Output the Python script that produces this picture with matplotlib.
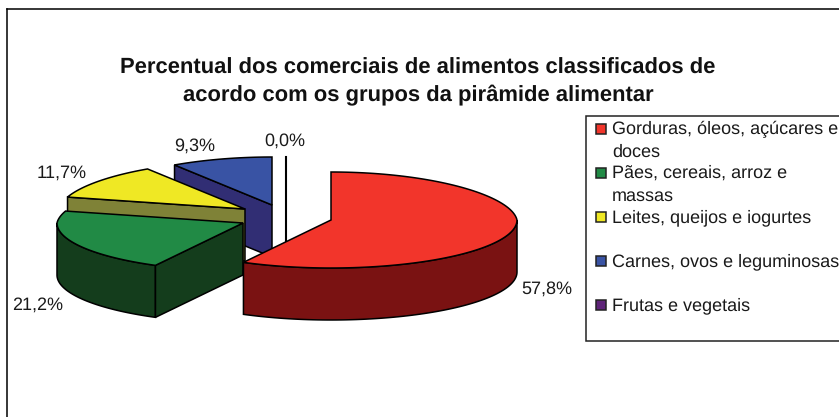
import numpy as np
import matplotlib
matplotlib.use('Agg')
import matplotlib.pyplot as plt
from matplotlib.patches import Polygon, Rectangle

plt.rcParams['font.family'] = ['Liberation Sans', 'DejaVu Sans']
plt.rcParams['text.hinting'] = 'none'
plt.rcParams['text.hinting_factor'] = 1

#data
title = 'Percentual dos comerciais de alimentos classificados de\nacordo com os grupos da pirâmide alimentar'
legend_labels = ['Gorduras, óleos, açúcares e\ndoces', 'Pães, cereais, arroz e\nmassas',
                 'Leites, queijos e iogurtes', 'Carnes, ovos e leguminosas', 'Frutas e vegetais']
percent = [57.8, 21.2, 11.7, 9.3, 0.0]

#colours
top_colors = ['#F2352B', '#218A45', '#EFE824', '#3953A4', '#5E2378']
wall_colors = ['#7A1212', '#143D1C', '#7F8237', '#312E74', '#3A1548']

#layout, in pixels of the picture
center = (260, 215)
explode = [(71, 5), (-17, 8), (-15, -6), (12, -10), (26, -10)]
rx, ry, depth = 186, 48, 52
label_pos = [(547, 289), (38, 305), (62, 173), (195, 146), (285, 141)]
legend_y = [129, 173, 217, 261, 305]

fig = plt.figure(figsize=(8.39, 4.17), dpi=100)
ax = fig.add_axes([0, 0, 1, 1])
ax.set_xlim(0, 839)
ax.set_ylim(417, 0)
ax.axis('off')


def rim(ang, apex):
    # point on the edge of a slice, the back of the pie is a bit narrower
    a = np.radians(ang)
    s = np.sin(a)
    w = rx * (1 - 0.06 * np.maximum(s, 0))
    return np.column_stack([apex[0] + w * np.cos(a), apex[1] - ry * s])


# slices start at 12 o'clock and go clockwise
edges = 90 - np.cumsum([0] + percent) * 3.6
apexes = [(center[0] + e[0], center[1] + e[1]) for e in explode]


def draw_slice(i, z, cut_face):
    apex = apexes[i]
    start, stop = edges[i], edges[i + 1]
    down = np.array([0, depth])
    # outer wall, only the front half of the rim is seen
    lo, hi = max(stop, -180), min(start, 0)
    if hi > lo:
        pts = rim(np.linspace(hi, lo, 80), apex)
        ax.add_patch(Polygon(np.vstack([pts, pts[::-1] + down]), fc=wall_colors[i], ec='black', lw=1.1, zorder=z))
    if cut_face:
        edge = rim(np.array([start]), apex)
        face = np.vstack([edge, apex, np.array(apex) + down, edge + down])
        ax.add_patch(Polygon(face, fc=wall_colors[i], ec='black', lw=1.1, zorder=z))
    # top
    pts = rim(np.linspace(start, stop, 120), apex)
    ax.add_patch(Polygon(np.vstack([apex, pts]), fc=top_colors[i], ec='black', lw=1.1, zorder=z + 0.5))


# back to front
ax.plot([apexes[4][0]] * 2, [apexes[4][1] - ry, apexes[4][1] + depth - 4], color='black', lw=1.5, zorder=1)
draw_slice(3, 2, True)
draw_slice(2, 3, True)
draw_slice(1, 4, True)
draw_slice(0, 5, False)

for v, (x, y) in zip(percent, label_pos):
    ax.text(x, y, f'{v:.1f}%'.replace('.', ','), ha='center', va='center', fontsize=12.7, color='#1a1a1a', zorder=10)

ax.text(418, 82, title, ha='center', va='center', fontsize=15.7, fontweight='bold', color='#111111',
        linespacing=1.38)

# outer frame
ax.plot([7, 7], [417, 9], color='black', lw=1.1, clip_on=False)
ax.plot([7, 839], [9, 9], color='black', lw=1.1, clip_on=False)

# legend
ax.add_patch(Rectangle((586, 116), 260, 225, fc='white', ec='#222222', lw=1.1, zorder=6))
for lab, c, y in zip(legend_labels, top_colors, legend_y):
    ax.add_patch(Rectangle((596, y - 5), 10, 10, fc=c, ec='#222222', lw=1.1, zorder=7))
    ax.text(612, y - 8, lab, ha='left', va='top', fontsize=12.62, color='#1a1a1a', linespacing=1.44, zorder=7)

plt.savefig('out.png', dpi=100)
